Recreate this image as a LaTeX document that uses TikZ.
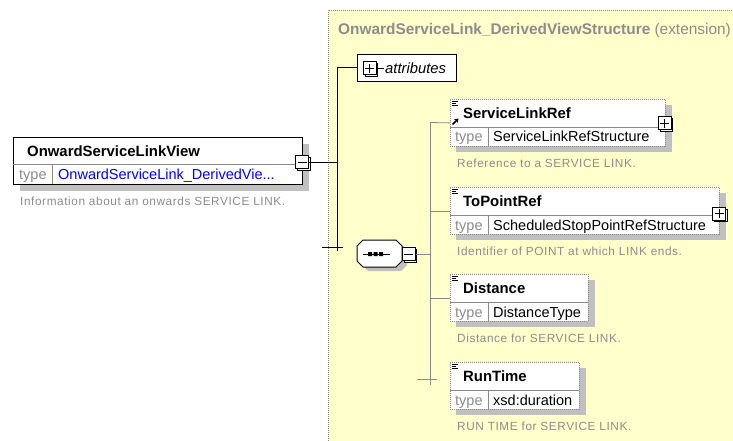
\documentclass[tikz,border=0pt]{standalone}
\usepackage{fontspec}
\setmainfont{Liberation Sans}
\newfontfamily\descfont[LetterSpace=5]{Liberation Sans}
\usetikzlibrary{arrows.meta}
\definecolor{bgyellow}{HTML}{FFFFCC}
\definecolor{shadowgray}{HTML}{C0C0C0}
\definecolor{txtgray}{HTML}{8C8C8C}
\definecolor{linegray}{HTML}{8A8A8A}
\definecolor{linkblue}{HTML}{0000FF}
\tikzset{
  nametext/.style={font=\bfseries\fontsize{14.9}{17}\selectfont, anchor=base west, inner sep=0},
  typelbl/.style={font=\fontsize{14.5}{17}\selectfont, text=txtgray, anchor=base west, inner sep=0},
  typeval/.style={font=\fontsize{14.5}{17}\selectfont, anchor=base west, inner sep=0},
  desctext/.style={font=\descfont\fontsize{11.8}{14}\selectfont, text=txtgray, anchor=base west, inner sep=0},
  optbox/.style={draw=linegray, dash pattern=on 1pt off 1pt, fill=white, line width=0.8pt, anchor=north west, inner sep=0},
  reqbox/.style={draw=black, fill=white, line width=1pt, anchor=north west, inner sep=0},
  conn/.style={draw=black, line width=1pt},
  childconn/.style={draw=linegray, line width=0.8pt},
  pmbox/.style={draw=black, fill=white, line width=1pt, minimum width=13, minimum height=13, inner sep=0},
  pmshadow/.style={draw=black, fill=white, line width=1pt},
  signline/.style={draw=black, line width=1pt},
}
% plus/minus box: #1 id, #2 x, #3 y (centre), #4 1 = plus, 0 = minus
\newcommand\pmsign[4]{%
  \draw[pmshadow] (#2-4.5,#3-4.5) rectangle (#2+8,#3+8);
  \node[pmbox] (#1) at (#2,#3) {};
  \draw[signline] (#2-4.5,#3) -- (#2+4.5,#3);
  \ifnum#4=1 \draw[signline] (#2,#3-4.5) -- (#2,#3+4.5);\fi
}
% #1 id, #2 top y, #3 width, #4 name, #5 type, #6 description
\newcommand\xsdelem[6]{%
  \fill[shadowgray] (456,#2+6) rectangle (450+#3+7,#2+53);
  \node[optbox, minimum width=#3, minimum height=47] (#1) at (450,#2) {};
  \draw[linegray, line width=0.8pt] (450,#2+28) -- (450+#3,#2+28);
  \draw[linegray, line width=0.8pt] (488,#2+28) -- (488,#2+47);
  \draw[black, line width=0.9pt] (452,#2+2.5) -- (458,#2+2.5) (452,#2+4.5) -- (456,#2+4.5) (452,#2+6.5) -- (458,#2+6.5);
  \node[nametext] (#1-name) at (463,#2+19) {#4};
  \node[typelbl] (#1-tl) at (455,#2+43) {type};
  \node[typeval] (#1-tv) at (493,#2+43) {#5};
  \node[desctext] (#1-desc) at (457,#2+68) {#6};
}
\begin{document}
\begin{tikzpicture}[x=1pt,y=-1pt]
\useasboundingbox (0,0) rectangle (733,441);
\fill[white] (0,0) rectangle (733,441);
% yellow extension area
\fill[bgyellow] (328,10) rectangle (733,441);
\draw[linegray, dash pattern=on 1pt off 1pt, line width=0.8pt] (328,441) -- (328,10) -- (733,10);
\node[font=\bfseries\fontsize{15.4}{17}\selectfont, text=txtgray, anchor=base west, inner sep=0] (title) at (338,35)
  {OnwardServiceLink\_DerivedViewStructure \mdseries(extension)};

% main element
\fill[shadowgray] (20,144) rectangle (309,191);
\node[reqbox, minimum width=289, minimum height=47] (main) at (13,137) {};
\draw[linegray, line width=0.8pt] (13,164) -- (302,164);
\draw[linegray, line width=0.8pt] (52,164) -- (52,184);
\node[nametext] (main-name) at (27,156) {OnwardServiceLinkView};
\node[typelbl] (main-tl) at (19,179) {type};
\node[typeval, text=linkblue] (main-tv) at (58,179) {OnwardServiceLink\_DerivedVie...};
\node[desctext] (main-desc) at (20,205) {Information about an onwards SERVICE LINK.};
\pmsign{main-pm}{302}{162}{0}

% main spine
\coordinate (spine1-top) at (337,68);
\coordinate (spine1-bot) at (337,251);
\coordinate (tick1-l) at (322,247);
\coordinate (tick1-r) at (343,247);
\draw[conn] (main-pm.east) -- (main-pm.east -| spine1-top);
\draw[conn] (spine1-top) -- (spine1-bot);
\draw[conn] (tick1-l) -- (tick1-r);

% attributes
\node[reqbox, minimum width=99, minimum height=27] (attr) at (357,54) {};
\draw[conn] (spine1-top) -- (attr.west);
\pmsign{attr-pm}{369.5}{68.5}{1}
\draw[conn] (attr-pm.east) -- (384,68.5);
\node[font=\itshape\fontsize{14.8}{17}\selectfont, anchor=base west, inner sep=0] (attr-text) at (385,74) {attributes};

% sequence compositor
\fill[shadowgray] (368,244) -- (401,244) -- (407,250) -- (407,265) -- (401,271) -- (368,271) -- (362,265) -- (362,250) -- cycle;
\draw[black, fill=white, line width=1pt] (363,240) -- (396,240) -- (402,246) -- (402,261) -- (396,267) -- (363,267) -- (357,261) -- (357,246) -- cycle;
\node[inner sep=0, minimum width=45, minimum height=27] (seq) at (379.5,253.5) {};
\draw[black, line width=1pt] (363,254) -- (390,254);
\fill[black] (368,252) rectangle (372,256) (373.5,252) rectangle (377.5,256) (379,252) rectangle (383,256);
\pmsign{seq-pm}{408.5}{254}{0}

% child spine
\coordinate (spine2-mid) at (430,254);
\coordinate (spine2-top) at (430,122.5);
\coordinate (spine2-bot) at (430,385);
\coordinate (tick2-l) at (417,379);
\coordinate (tick2-r) at (437,379);
\draw[childconn] (seq-pm.east) -- (spine2-mid);
\draw[childconn] (spine2-top) -- (spine2-bot);
\draw[childconn] (tick2-l) -- (tick2-r);

% children
\xsdelem{slr}{99}{215}{ServiceLinkRef}{ServiceLinkRefStructure}{Reference to a SERVICE LINK.}
\xsdelem{tpr}{187}{269}{ToPointRef}{ScheduledStopPointRefStructure}{Identifier of POINT at which LINK ends.}
\xsdelem{dist}{274}{138}{Distance}{DistanceType}{Distance for SERVICE LINK.}
\xsdelem{rt}{362}{129}{RunTime}{xsd:duration}{RUN TIME for SERVICE LINK.}

\draw[childconn] (spine2-top) -- (slr.west);
\draw[childconn] (spine2-top |- tpr.west) -- (tpr.west);
\draw[childconn] (spine2-top |- dist.west) -- (dist.west);

% reference arrow icon
\draw[black, line width=1.5pt, -{Stealth[length=4pt,width=5pt]}] (452.5,124.5) -- (458.5,118.5);

% expand boxes of children
\pmsign{slr-pm}{664.5}{123.5}{1}
\pmsign{tpr-pm}{719}{213.5}{1}
\end{tikzpicture}
\end{document}
